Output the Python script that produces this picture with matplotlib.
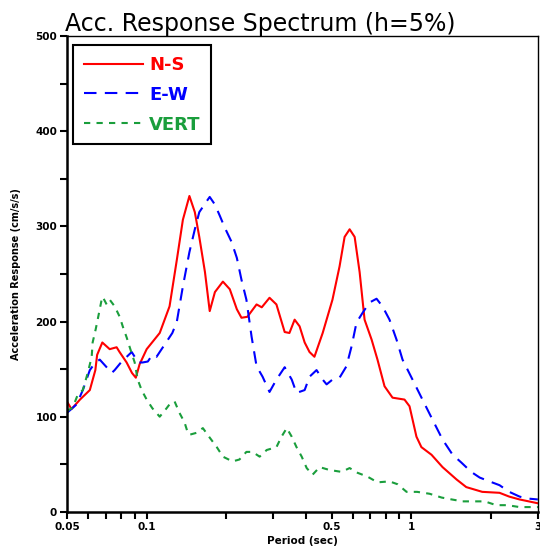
import numpy as np
import matplotlib.pyplot as plt
from matplotlib.ticker import FixedLocator, NullFormatter

# Periode (detik) dan respon percepatan (cm/s/s) untuk tiap komponen
ns_period = [0.050, 0.052, 0.056, 0.061, 0.064, 0.065, 0.068, 0.0725, 0.077, 0.079,
             0.084, 0.088, 0.091, 0.094, 0.100, 0.112, 0.122, 0.130, 0.137, 0.145,
             0.152, 0.158, 0.166, 0.173, 0.181, 0.194, 0.206, 0.219, 0.228, 0.240,
             0.260, 0.272, 0.291, 0.309, 0.332, 0.346, 0.362, 0.378, 0.395, 0.412,
             0.430, 0.462, 0.503, 0.535, 0.559, 0.584, 0.610, 0.637, 0.665, 0.707,
             0.744, 0.791, 0.848, 0.941, 0.983, 1.044, 1.09, 1.19, 1.31, 1.48,
             1.61, 1.85, 2.15, 2.34, 2.56, 3.0]
ns_acc = [116, 108, 118, 128, 149, 165, 178, 171, 173, 168,
          157, 146, 141, 155, 171, 188, 216, 265, 307, 332,
          315, 289, 252, 211, 231, 242, 234, 213, 204, 205,
          218, 215, 225, 218, 189, 188, 202, 195, 178, 168,
          163, 188, 223, 258, 289, 297, 289, 252, 202, 181,
          160, 132, 120, 118, 111, 79, 68, 60, 47, 34,
          26, 21, 20, 16, 13, 9]

ew_period = [0.050, 0.0544, 0.0574, 0.061, 0.064, 0.0665, 0.0706, 0.0738, 0.0757, 0.0805,
             0.0841, 0.0878, 0.0901, 0.0925, 0.0965, 0.101, 0.105, 0.109, 0.112, 0.119,
             0.125, 0.130, 0.137, 0.145, 0.152, 0.158, 0.168, 0.173, 0.181, 0.189,
             0.197, 0.209, 0.219, 0.228, 0.238, 0.249, 0.260, 0.274, 0.291, 0.309,
             0.332, 0.353, 0.368, 0.395, 0.412, 0.438, 0.462, 0.478, 0.503, 0.535,
             0.568, 0.594, 0.620, 0.653, 0.694, 0.738, 0.777, 0.826, 0.878, 0.925,
             1.009, 1.10, 1.20, 1.31, 1.43, 1.54, 1.68, 1.81, 1.97, 2.15,
             2.34, 2.56, 2.74, 3.0]
ew_acc = [104, 113, 128, 149, 157, 160, 152, 146, 149, 158,
          163, 168, 163, 157, 157, 158, 165, 163, 168, 179,
          188, 200, 237, 273, 297, 315, 326, 331, 323, 311,
          299, 284, 267, 244, 223, 184, 153, 142, 126, 139,
          152, 139, 125, 128, 142, 149, 139, 134, 139, 141,
          153, 174, 199, 209, 220, 224, 216, 202, 181, 160,
          139, 118, 97, 76, 60, 52, 42, 36, 32, 28,
          21, 16, 14, 13]

vert_period = [0.050, 0.0521, 0.0535, 0.0549, 0.0574, 0.0599, 0.062, 0.0625, 0.0642, 0.0653,
               0.0676, 0.0682, 0.0706, 0.0725, 0.0757, 0.0791, 0.0812, 0.0841, 0.0863, 0.0901,
               0.0925, 0.0957, 0.100, 0.105, 0.112, 0.119, 0.122, 0.1275, 0.133, 0.139,
               0.143, 0.145, 0.154, 0.163, 0.173, 0.184, 0.194, 0.211, 0.224, 0.238,
               0.251, 0.267, 0.284, 0.309, 0.323, 0.338, 0.353, 0.368, 0.385, 0.402,
               0.423, 0.450, 0.490, 0.544, 0.584, 0.626, 0.682, 0.744, 0.826, 0.886,
               0.958, 1.05, 1.17, 1.30, 1.42, 1.56, 1.70, 1.89, 2.09, 2.30,
               2.56, 3.0]
vert_acc = [106, 109, 115, 123, 128, 146, 163, 178, 192, 202,
            223, 226, 218, 223, 216, 205, 195, 183, 173, 157,
            139, 128, 118, 109, 100, 109, 113, 116, 104, 94,
            83, 81, 83, 88, 78, 68, 58, 53, 55, 63,
            63, 58, 65, 68, 79, 88, 79, 68, 58, 46,
            39, 47, 44, 42, 46, 41, 37, 31, 32, 29,
            21, 21, 19, 15, 13, 11, 11, 11, 7, 7,
            5, 5]

labels = ['N-S', 'E-W', 'VERT']
x_major = [0.05, 0.1, 0.5, 1, 3]
x_major_labels = ['0.05', '0.1', '0.5', '1', '3']
x_minor = [0.06, 0.07, 0.08, 0.09, 0.2, 0.3, 0.4, 0.6, 0.7, 0.8, 0.9, 2]
y_major = [0, 100, 200, 300, 400, 500]

fig = plt.figure(figsize=(5.4, 5.48), dpi=100)
ax = fig.add_axes([0.124, 0.066, 0.872, 0.868])

ax.plot(ns_period, ns_acc, color='#ff0000', lw=1.5, label=labels[0])
ax.plot(ew_period, ew_acc, color='#0000ff', lw=1.5, ls=(0, (6, 4)), label=labels[1])
ax.plot(vert_period, vert_acc, color='#1a9e3c', lw=1.5, ls=(0, (3, 3)), label=labels[2])

ax.set_xscale('log')
ax.set_xlim(0.05, 3)
ax.set_ylim(0, 500)

# Tick sumbu x: label hanya pada beberapa nilai
ax.xaxis.set_major_locator(FixedLocator(x_major))
ax.set_xticklabels(x_major_labels)
ax.xaxis.set_minor_locator(FixedLocator(x_minor))
ax.xaxis.set_minor_formatter(NullFormatter())
ax.set_yticks(y_major)
ax.set_yticks(np.arange(50, 500, 100), minor=True)

ax.tick_params(which='both', direction='out', length=5, width=1.5,
               labelsize=7.5, top=False, right=False, pad=2)
for lbl in ax.get_xticklabels() + ax.get_yticklabels():
    lbl.set_fontweight('bold')

for side in ['left', 'bottom']:
    ax.spines[side].set_linewidth(1.8)
for side in ['top', 'right']:
    ax.spines[side].set_linewidth(1.0)

ax.set_xlabel('Period (sec)', fontsize=7.5, fontweight='bold', labelpad=3)
ax.set_ylabel('Acceleration Response (cm/s/s)', fontsize=7, fontweight='bold', labelpad=10)
ax.set_title('Acc. Response Spectrum (h=5%)', loc='left', fontsize=17,
             fontweight='normal', pad=2, x=-0.005)

leg = ax.legend(loc='upper left', bbox_to_anchor=(0.013, 0.981), borderaxespad=0,
                fancybox=False, edgecolor='black', framealpha=1, labelcolor='linecolor',
                prop={'size': 13, 'weight': 'bold'}, handlelength=3.3,
                handletextpad=0.3, labelspacing=0.65, borderpad=0.6)
leg.get_frame().set_linewidth(1.5)

plt.savefig('out.png', dpi=100)
